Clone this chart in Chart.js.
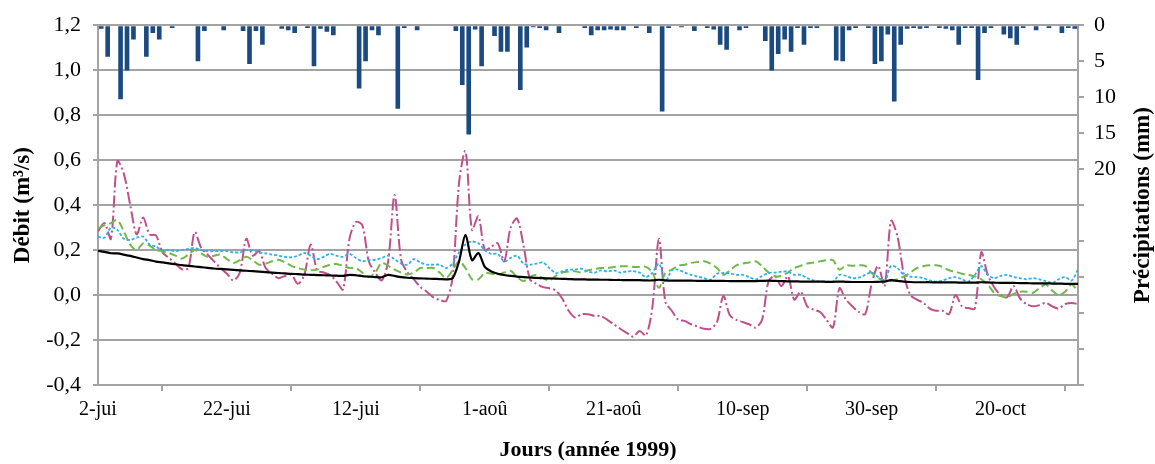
<!DOCTYPE html>
<html>
<head>
<meta charset="utf-8">
<script src="https://cdn.jsdelivr.net/npm/chart.js@4"></script>
<style>
  html, body { margin: 0; padding: 0; background: #fff; }
  #wrap { width: 1155px; height: 464px; }
</style>
</head>
<body>
<div id="wrap"><canvas id="chart"></canvas></div>
<script>
// Jours comptés depuis le 2 juin 1999 (jour 0 = 2-jui), une valeur par jour
const etiquettesJours = ['2-jui', '22-jui', '12-jui', '1-aoû', '21-aoû', '10-sep', '30-sep', '20-oct'];

// Précipitations journalières (mm), jours 0 à 151
const precipitations = [
  0.5, 4.4, 0, 10.3, 6.3, 2.0, 0, 4.4, 1.1, 2.0,
  0, 0.4, 0, 0, 0, 5.0, 0.8, 0, 0, 0.7,
  0, 0, 0.8, 5.4, 0.8, 2.7, 0, 0, 0.5, 0.7,
  1.1, 0, 0.4, 5.7, 0.5, 0.9, 1.4, 0, 0, 0,
  8.8, 5.0, 0.7, 1.4, 0, 0, 11.6, 0.4, 0, 0.7,
  0, 0, 0, 0, 0, 0.8, 8.3, 15.2, 0.6, 5.7,
  0, 1.5, 3.7, 3.7, 0, 9.0, 3.1, 0.3, 0.4, 0.7,
  0, 1.1, 0, 0, 0, 0.4, 1.4, 0.7, 0.7, 0.6,
  0.7, 0.7, 0, 0.4, 0, 1.1, 0, 12.0, 0.4, 0,
  0.3, 0, 0.8, 0, 0.4, 0.6, 2.7, 3.4, 0, 0.7,
  0.4, 0, 0, 2.2, 6.3, 4.0, 2.0, 3.7, 0.4, 2.7,
  0.4, 0.4, 0, 0, 4.9, 5.0, 0.7, 0.4, 0, 0.4,
  5.4, 5.0, 1.3, 10.6, 2.7, 0.5, 0.4, 0.5, 0.4, 0,
  0.4, 0.5, 0.7, 2.7, 0.4, 0.4, 7.6, 1.1, 0.4, 0,
  1.3, 1.8, 2.7, 0.4, 0, 0.7, 0, 0.4, 0, 1.1,
  0.4, 0.5
];

// Débits (m3/s), jours 0 à 152
const debitNoir = [
  0.197, 0.192, 0.186, 0.185, 0.18, 0.174, 0.167, 0.16, 0.155, 0.149,
  0.145, 0.141, 0.137, 0.133, 0.13, 0.127, 0.124, 0.121, 0.118, 0.116,
  0.114, 0.112, 0.11, 0.108, 0.106, 0.104, 0.102, 0.10, 0.098, 0.096,
  0.094, 0.093, 0.091, 0.09, 0.089, 0.088, 0.087, 0.086, 0.085, 0.09,
  0.088, 0.084, 0.082, 0.08, 0.079, 0.09, 0.085, 0.08, 0.077, 0.075,
  0.074, 0.073, 0.072, 0.071, 0.07, 0.075, 0.15, 0.268, 0.155, 0.187,
  0.125, 0.105, 0.095, 0.089, 0.085, 0.082, 0.08, 0.078, 0.076, 0.075,
  0.074, 0.073, 0.072, 0.071, 0.07, 0.07, 0.069, 0.069, 0.068, 0.068,
  0.067, 0.067, 0.066, 0.066, 0.066, 0.065, 0.065, 0.068, 0.065, 0.064,
  0.064, 0.064, 0.064, 0.063, 0.063, 0.063, 0.063, 0.063, 0.062, 0.062,
  0.062, 0.062, 0.062, 0.063, 0.064, 0.063, 0.062, 0.061, 0.061, 0.06,
  0.06, 0.06, 0.06, 0.059, 0.059, 0.06, 0.059, 0.058, 0.058, 0.058,
  0.058, 0.059, 0.06, 0.066, 0.063, 0.06, 0.058, 0.057, 0.057, 0.057,
  0.056, 0.056, 0.056, 0.056, 0.055, 0.055, 0.055, 0.057, 0.056, 0.055,
  0.054, 0.054, 0.054, 0.053, 0.053, 0.052, 0.052, 0.052, 0.051, 0.051,
  0.05, 0.05, 0.05
];

const debitRose = [
  0.283, 0.32, 0.25, 0.595, 0.54, 0.40, 0.27, 0.345, 0.27, 0.265,
  0.19, 0.165, 0.14, 0.115, 0.12, 0.28, 0.21, 0.18, 0.15, 0.12,
  0.095, 0.065, 0.10, 0.25, 0.175, 0.195, 0.12, 0.095, 0.075, 0.085,
  0.09, 0.05, 0.09, 0.225, 0.11, 0.10, 0.09, 0.06, 0.025, 0.25,
  0.325, 0.31, 0.15, 0.10, 0.065, 0.15, 0.445, 0.16, 0.10, 0.07,
  0.035, 0.015, -0.01, -0.022, -0.026, 0.08, 0.50, 0.64, 0.29, 0.35,
  0.20, 0.215, 0.23, 0.15, 0.30, 0.34, 0.22, 0.07, 0.05, 0.035,
  0.03, 0.02, -0.015, -0.07, -0.10, -0.085, -0.085, -0.093, -0.093, -0.11,
  -0.13, -0.15, -0.168, -0.185, -0.16, -0.18, -0.05, 0.25, -0.03, -0.07,
  -0.11, -0.115, -0.13, -0.14, -0.15, -0.15, -0.12, -0.005, -0.09, -0.11,
  -0.12, -0.13, -0.145, -0.11, 0.06, 0.084, 0.04, 0.084, -0.02, 0.015,
  -0.05, -0.065, -0.075, -0.11, -0.144, 0.03, -0.02, -0.05, -0.075, -0.085,
  0.05, 0.13, 0.04, 0.33, 0.26, 0.09, 0.0, -0.02, -0.035, -0.06,
  -0.07, -0.07, -0.085, 0.0, -0.05, -0.058, -0.06, 0.19, 0.09, 0.035,
  0.0, -0.01, 0.04, -0.015, -0.04, -0.05, -0.045, -0.035, -0.05, -0.06,
  -0.04, -0.035, -0.04
];

const debitBleu = [
  0.26, 0.255, 0.30, 0.29, 0.25, 0.245, 0.255, 0.26, 0.225, 0.215,
  0.20, 0.20, 0.195, 0.20, 0.205, 0.21, 0.20, 0.195, 0.195, 0.195,
  0.195, 0.19, 0.19, 0.20, 0.20, 0.19, 0.185, 0.18, 0.175, 0.17,
  0.168, 0.175, 0.187, 0.175, 0.16, 0.17, 0.183, 0.175, 0.17, 0.183,
  0.165, 0.15, 0.155, 0.157, 0.165, 0.175, 0.16, 0.14, 0.135, 0.16,
  0.145, 0.135, 0.135, 0.135, 0.12, 0.14, 0.19, 0.225, 0.238, 0.23,
  0.20, 0.183, 0.183, 0.15, 0.165, 0.175, 0.14, 0.135, 0.14, 0.145,
  0.12, 0.098, 0.105, 0.113, 0.113, 0.117, 0.104, 0.10, 0.11, 0.105,
  0.11, 0.10, 0.105, 0.106, 0.10, 0.08, 0.10, 0.14, 0.06, 0.11,
  0.113, 0.10, 0.09, 0.082, 0.075, 0.068, 0.095, 0.098, 0.097, 0.09,
  0.09, 0.08, 0.069, 0.085, 0.098, 0.10, 0.104, 0.104, 0.09, 0.09,
  0.075, 0.065, 0.06, 0.06, 0.06, 0.09, 0.085, 0.075, 0.078, 0.09,
  0.10, 0.08, 0.06, 0.13, 0.12, 0.09, 0.082, 0.08, 0.075, 0.065,
  0.06, 0.065, 0.075, 0.08, 0.07, 0.06, 0.09, 0.128, 0.09, 0.075,
  0.085, 0.09, 0.08, 0.075, 0.07, 0.075, 0.07, 0.062, 0.054, 0.07,
  0.08, 0.065, 0.113
];

const debitVert = [
  0.297, 0.31, 0.32, 0.334, 0.283, 0.224, 0.20, 0.23, 0.22, 0.20,
  0.195, 0.187, 0.175, 0.162, 0.18, 0.20, 0.185, 0.17, 0.175, 0.18,
  0.16, 0.143, 0.155, 0.17, 0.155, 0.135, 0.14, 0.15, 0.157, 0.145,
  0.13, 0.12, 0.113, 0.11, 0.113, 0.125, 0.135, 0.138, 0.13, 0.12,
  0.12, 0.10, 0.08, 0.10, 0.143, 0.13, 0.113, 0.10, 0.091, 0.10,
  0.12, 0.12, 0.12, 0.10, 0.076, 0.11, 0.15, 0.12, 0.07, 0.07,
  0.098, 0.095, 0.091, 0.10, 0.108, 0.08, 0.062, 0.08, 0.09, 0.075,
  0.065, 0.085, 0.10, 0.104, 0.106, 0.10, 0.11, 0.115, 0.12, 0.12,
  0.125, 0.128, 0.128, 0.125, 0.125, 0.125, 0.10, 0.032, 0.098, 0.113,
  0.13, 0.135, 0.143, 0.147, 0.15, 0.14, 0.12, 0.09, 0.11, 0.132,
  0.14, 0.145, 0.15, 0.128, 0.10, 0.084, 0.085, 0.10, 0.12, 0.13,
  0.14, 0.145, 0.15, 0.155, 0.155, 0.113, 0.132, 0.13, 0.132, 0.13,
  0.098, 0.076, 0.065, 0.062, 0.07, 0.083, 0.10, 0.12, 0.128, 0.132,
  0.132, 0.125, 0.11, 0.104, 0.095, 0.09, 0.083, 0.07, 0.047, 0.01,
  -0.005, -0.01, 0.005, 0.015, 0.015, 0.01, 0.03, 0.047, 0.02, 0.0,
  0.015, 0.047, 0.015
];

const police = "'Liberation Serif', 'Times New Roman', serif";
const gris = '#a3a3a3';

// Points {x: jour, y: valeur}
const enPoints = (serie) => serie.map((v, i) => ({ x: i, y: v }));
// Les barres sont centrées au milieu de chaque jour
const barres = precipitations.map((p, i) => ({ x: i + 0.5, y: p }));

// Fond blanc
const fondBlanc = {
  id: 'fondBlanc',
  beforeDraw(chart) {
    const { ctx, width, height } = chart;
    ctx.save();
    ctx.fillStyle = '#fff';
    ctx.fillRect(0, 0, width, height);
    ctx.restore();
  }
};

// Titre de l'axe de droite, lu de bas en haut comme dans Excel
const titreDroit = {
  id: 'titreDroit',
  afterDraw(chart) {
    const { ctx, chartArea } = chart;
    const echelle = chart.scales.y2;
    ctx.save();
    ctx.translate(echelle.right - 12, (chartArea.top + chartArea.bottom) / 2);
    ctx.rotate(-Math.PI / 2);
    ctx.font = 'bold 23px ' + police;
    ctx.fillStyle = '#000';
    ctx.textAlign = 'center';
    ctx.textBaseline = 'middle';
    ctx.fillText('Précipitations (mm)', 0, 0);
    ctx.restore();
  }
};

new Chart(document.getElementById('chart'), {
  type: 'line',
  data: {
    datasets: [
      {
        type: 'bar',
        data: barres,
        yAxisID: 'y2',
        backgroundColor: '#1b4a80',
        barPercentage: 0.72,
        categoryPercentage: 1,
        order: 5
      },
      {
        data: enPoints(debitRose),
        borderColor: '#c0508c',
        borderWidth: 2,
        borderDash: [12, 3, 2, 3],
        tension: 0.3,
        order: 4
      },
      {
        data: enPoints(debitVert),
        borderColor: '#6fba4a',
        borderWidth: 2,
        borderDash: [8, 4],
        tension: 0.3,
        order: 3
      },
      {
        data: enPoints(debitBleu),
        borderColor: '#2cb2e6',
        borderWidth: 1.8,
        borderDash: [3, 2],
        tension: 0.3,
        order: 2
      },
      {
        data: enPoints(debitNoir),
        borderColor: '#000',
        borderWidth: 2.2,
        tension: 0.3,
        order: 1
      }
    ]
  },
  options: {
    responsive: true,
    maintainAspectRatio: false,
    animation: false,
    events: [],
    elements: { point: { radius: 0 } },
    layout: { padding: { top: 22, left: 0, right: 0, bottom: 0 } },
    plugins: {
      legend: { display: false },
      tooltip: { enabled: false }
    },
    scales: {
      x: {
        type: 'linear',
        min: 0,
        max: 152,
        offset: false,
        afterFit: (s) => { s.height = 79; },
        afterBuildTicks: (s) => {
          s.ticks = s.ticks.filter(t => t.value % 20 === 0 && t.value <= 140);
        },
        ticks: {
          stepSize: 20,
          autoSkip: false,
          maxRotation: 0,
          padding: 7,
          color: '#000',
          font: { family: police, size: 20 },
          callback: (v) => etiquettesJours[v / 20]
        },
        grid: { drawOnChartArea: false, tickLength: 6, color: gris, lineWidth: 2 },
        border: { color: gris, width: 2 },
        title: {
          display: true,
          text: 'Jours (année 1999)',
          color: '#000',
          padding: { top: 0, bottom: 0 },
          font: { family: police, size: 22, weight: 'bold' }
        }
      },
      y: {
        position: 'left',
        min: -0.4,
        max: 1.2,
        afterFit: (s) => { s.width = 98; },
        ticks: {
          stepSize: 0.2,
          padding: 12,
          color: '#000',
          font: { family: police, size: 22 },
          callback: (v) => v.toFixed(1).replace('.', ',')
        },
        grid: { color: gris, lineWidth: 2, tickLength: 5 },
        border: { color: gris, width: 2 },
        title: {
          display: true,
          text: 'Débit (m³/s)',
          color: '#000',
          padding: { top: 9, bottom: 0 },
          font: { family: police, size: 23, weight: 'bold' }
        }
      },
      y2: {
        position: 'right',
        reverse: true,
        min: 0,
        max: 50,
        afterFit: (s) => { s.width = 77; },
        ticks: {
          stepSize: 5,
          padding: 10,
          color: '#000',
          font: { family: police, size: 22 },
          callback: (v) => (v <= 20 ? String(v) : '')
        },
        grid: { drawOnChartArea: false, color: gris, lineWidth: 2, tickLength: 6 },
        border: { color: gris, width: 2 }
      }
    }
  },
  plugins: [fondBlanc, titreDroit]
});
</script>
</body>
</html>
